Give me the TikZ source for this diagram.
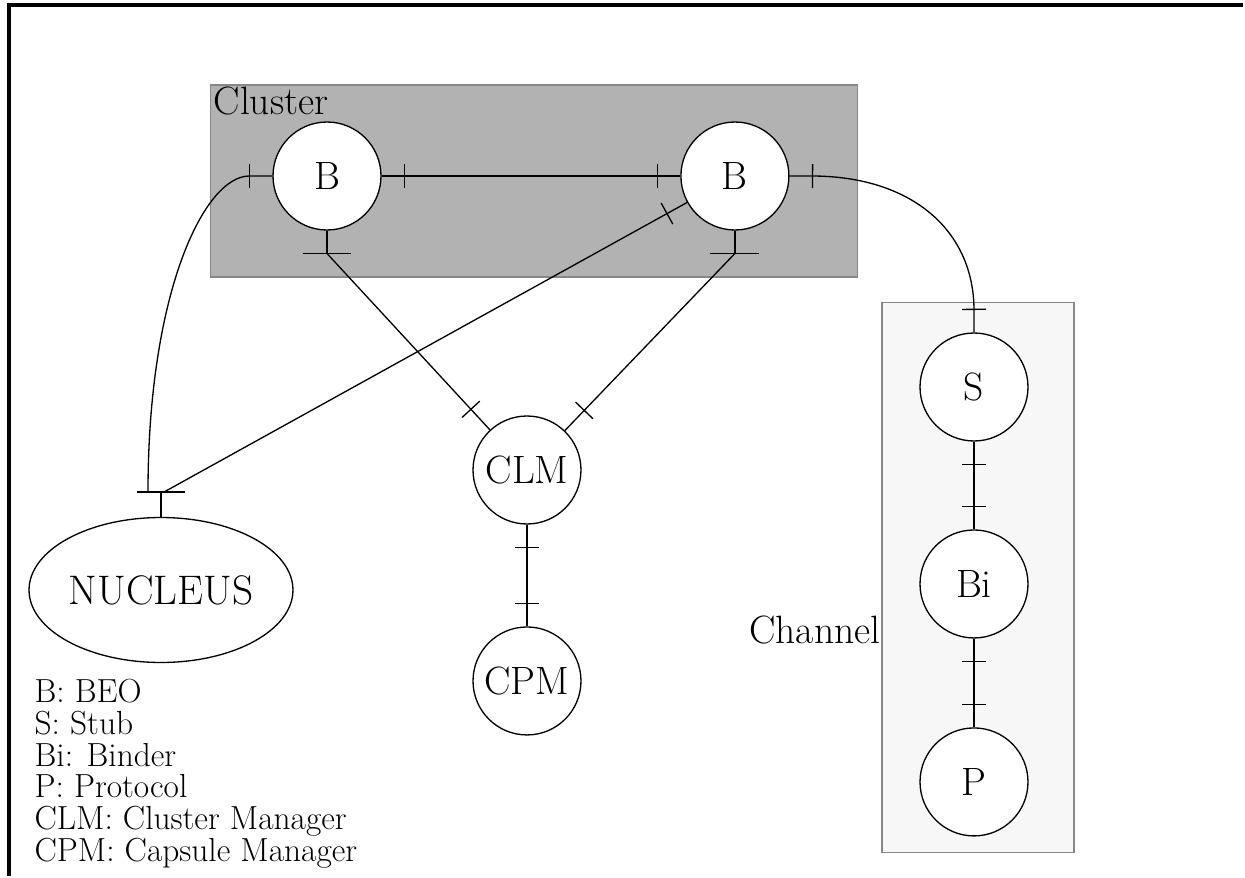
\documentclass[tikz,border=0pt]{standalone}
\usepackage{fontspec}
\usepackage{tikz}
\usetikzlibrary{shapes.geometric,decorations.markings}

\newcommand{\porttick}{\draw (0cm,-0.24cm) -- (0cm,0.24cm);}

\begin{document}
\begin{tikzpicture}[x=0.02cm,y=-0.02cm,line width=0.75pt,
  beo/.style={circle,draw,fill=white,minimum size=2.16cm,inner sep=0pt,font=\fontsize{22.5}{26}\selectfont},
  core/.style={ellipse,draw,fill=white,minimum width=5.28cm,minimum height=2.9cm,inner sep=0pt,font=\fontsize{23.5}{27}\selectfont},
  group/.style={draw=black!47,line width=0.6pt,inner sep=0pt},
  grouplabel/.style={inner sep=0pt,font=\fontsize{22.5}{26}\selectfont},
  tickstart/.style={postaction={decorate,decoration={markings,mark=at position #1 with {\porttick}}}},
  tickstart/.default=0.46cm,
  tickend/.style={postaction={decorate,decoration={markings,mark=at position -#1 with {\porttick}}}},
  tickend/.default=0.46cm,
  tickboth/.style={tickstart,tickend}]
\fill[white] (0,0) rectangle (1245,876);
\draw[line width=0.065cm] (9,876) -- (9,5) -- (1243,5);

% groups
\node[group,fill=black!30,minimum width=12.96cm,minimum height=3.84cm] (cluster) at (534,181) {};
\node[group,fill=black!3,minimum width=3.84cm,minimum height=11.02cm] (channel) at (978,577.5) {};
\node[grouplabel,anchor=base west] (clusterlabel) at (213,114) {Cluster};
\node[grouplabel,anchor=base east] (channellabel) at (881,643) {Channel};

% objects
\node[beo] (b1) at (327,176) {B};
\node[beo] (b2) [node distance=8.16cm,right of=b1] {B};
\node[beo] (clm) at (527,470) {CLM};
\node[beo] (cpm) [node distance=4.22cm,below of=clm] {CPM};
\node[beo] (s) at (974,387) {S};
\node[beo] (bi) [node distance=3.94cm,below of=s] {Bi};
\node[beo] (p) [node distance=3.96cm,below of=bi] {P};
\node[core] (nuc) at (161,590) {NUCLEUS};

% ports
\coordinate[node distance=1.55cm,below of=b1] (b1port);
\coordinate[node distance=1.55cm,below of=b2] (b2port);
\coordinate[node distance=1.96cm,above of=nuc] (nucport);
\foreach \q in {b1port,b2port,nucport}
  \draw ([xshift=-0.49cm]\q) -- ([xshift=0.49cm]\q);
\draw (b1) -- (b1port);
\draw (b2) -- (b2port);
\draw (nuc) -- (nucport);

% links
\draw[tickboth] (b1) -- (b2);
\draw[tickstart] (b1.west) -- ++(180:0.46cm) .. controls +(180:0.9cm) and +(90:4cm) .. ([xshift=-0.26cm]nucport);
\draw[tickstart] (b2) -- ([xshift=0.06cm]nucport);
\draw[tickboth] (b2.east) -- ++(0:0.44cm) .. controls +(0:2cm) and +(90:1.6cm) .. ([yshift=0.44cm]s.north) -- (s.north);
\draw[tickend=0.56cm] (b1port) -- (clm);
\draw[tickend=0.56cm] (b2port) -- (clm);
\draw[tickboth] (clm) -- (cpm);
\draw[tickboth] (s) -- (bi);
\draw[tickboth] (bi) -- (p);

% legend
\node[anchor=north west,inner sep=0pt,align=left,font=\fontsize{19}{18}\selectfont] (legend) at (34,679)
  {B: BEO\\S: Stub\\Bi: Binder\\P: Protocol\\CLM: Cluster Manager\\CPM: Capsule Manager};
\end{tikzpicture}
\end{document}
